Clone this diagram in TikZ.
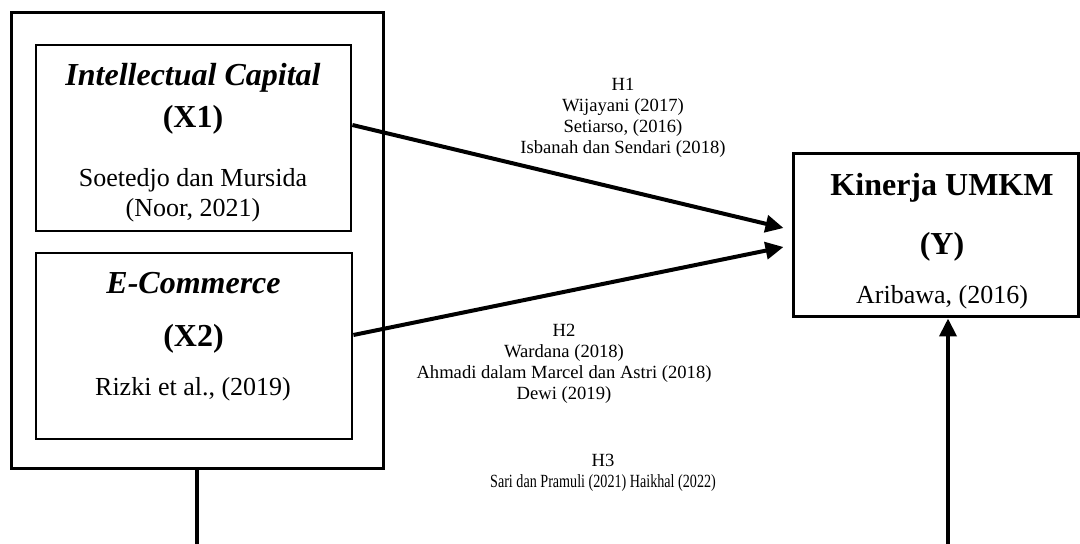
\documentclass[tikz,border=0pt]{standalone}
\usepackage{fontspec}
\setmainfont{Liberation Serif}
\usepackage{graphicx}
\usetikzlibrary{arrows.meta}

\begin{document}
\begin{tikzpicture}[
	x=0.5pt, y=-0.5pt,
	varbox/.style={ draw, line width=1.4pt, inner sep=0pt },
	head/.style={ font=\fontsize{16}{19}\selectfont\bfseries, inner sep=0pt, anchor=base },
	src/.style={ font=\fontsize{13}{16}\selectfont, inner sep=0pt, anchor=base },
	lbl/.style={ font=\fontsize{9.3}{10.5}\selectfont, align=center, inner sep=0pt },
	hyp/.style={ line width=2pt, -{Triangle[length=9pt,width=8.5pt]} }
]
\useasboundingbox (0,0) rectangle (1080,544);

% boxes
\node at (197,240.5) (xo) [varbox, line width=1.5pt, minimum width=186pt, minimum height=227.5pt] {};
\node at (193.5,138) (x1) [varbox, minimum width=157.5pt, minimum height=93pt] {};
\node at (194,346) (x2) [varbox, minimum width=158pt, minimum height=93pt] {};
\node at (935.5,235.5) (y) [varbox, line width=1.5pt, minimum width=142.5pt, minimum height=81.5pt] {};

% box texts
\node at (193,86) (x1a) [head] {\textit{Intellectual Capital}};
\node at (193,128) (x1b) [head] {(X1)};
\node at (193,187) (x1c) [src] {Soetedjo dan Mursida};
\node at (193,217) (x1d) [src] {(Noor, 2021)};
\node at (193.5,294) (x2a) [head] {\textit{E-Commerce}};
\node at (193.5,347) (x2b) [head] {(X2)};
\node at (193,396) (x2c) [src] {Rizki et al., (2019)};
\node at (942,196) (ya) [head] {Kinerja UMKM};
\node at (942,255) (yb) [head] {(Y)};
\node at (942,304) (yc) [src] {Aribawa, (2016)};

% hypotheses
\node at (623,118) (h1) [lbl] {H1\\Wijayani (2017)\\Setiarso, (2016)\\Isbanah dan Sendari (2018)};
\node at (564,364) (h2) [lbl] {H2\\Wardana (2018)\\Ahmadi dalam Marcel dan Astri (2018)\\Dewi (2019)};
\node at (603,473) (h3) [lbl] {H3\\\scalebox{0.76}[1]{Sari dan Pramuli (2021) Haikhal (2022)}};

\draw[hyp] ([yshift=6.5pt]x1.east) -- ([xshift=-4pt,yshift=3.75pt]y.west);
\draw[hyp] ([yshift=5.5pt]x2.east) -- ([xshift=-4pt,yshift=-5.75pt]y.west);

\coordinate (base) at (0,546);
\coordinate (yin) at ([xshift=6.25pt]y.south);
\draw[hyp] (xo.south) -- (xo.south |- base) -- (yin |- base) -- (yin);

\end{tikzpicture}
\end{document}
